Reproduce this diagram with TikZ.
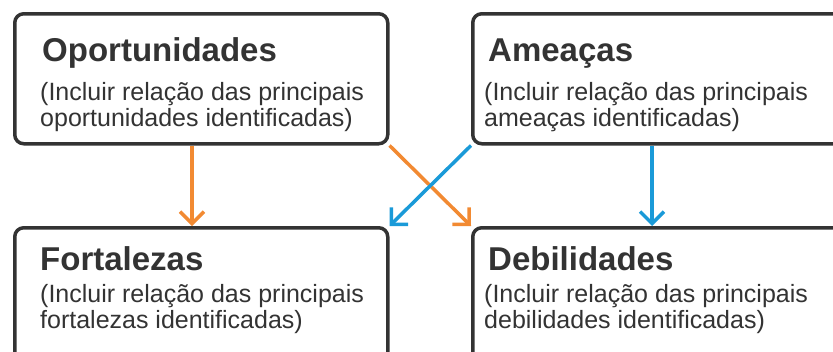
\documentclass[tikz,border=0pt]{standalone}
\usepackage{fontspec}
\setmainfont{Liberation Sans}
\usetikzlibrary{arrows.meta}
\definecolor{boxline}{HTML}{333333}
\definecolor{txt}{HTML}{333333}
\definecolor{orng}{HTML}{F28A32}
\definecolor{blu}{HTML}{1A9AD8}
\tikzset{
  card/.style={draw=boxline, line width=3.5pt, rounded corners=9pt, fill=white,
    rectangle, anchor=north west, inner sep=0pt, minimum width=#1, minimum height=130pt},
  ttl/.style={anchor=base west, inner sep=0pt, text=txt, font=\fontsize{33}{36}\selectfont\bfseries},
  sub/.style={anchor=base west, inner sep=0pt, text=txt, align=left, font=\fontsize{25}{26}\selectfont},
  conn/.style={line width=3.5pt, -{Straight Barb[length=12pt,width=24pt,line width=3.5pt]}},
}
\begin{document}
\begin{tikzpicture}[x=1pt,y=-1pt]
\useasboundingbox (0,0) rectangle (833,351);
\clip (0,0) rectangle (833,351);
\node[card=373pt] (op) at (13,12) {};
\node[card=400pt] (am) at (471,12) {};
\node[card=373pt, minimum height=150pt] (fo) at (13,226) {};
\node[card=400pt, minimum height=150pt] (de) at (471,226) {};
\node[ttl] (opt) at (42,61) {Oportunidades};
\node[sub] (ops) at (40,126) {(Incluir relação das principais\\oportunidades identificadas)};
\node[ttl] (amt) at (488,61) {Ameaças};
\node[sub] (ams) at (484,126) {(Incluir relação das principais\\ameaças identificadas)};
\node[ttl] (fot) at (40,270) {Fortalezas};
\node[sub] (fos) at (40,328) {(Incluir relação das principais\\fortalezas identificadas)};
\node[ttl] (det) at (488,270) {Debilidades};
\node[sub] (des) at (484,328) {(Incluir relação das principais\\debilidades identificadas)};
\draw[conn, orng] (op.south -| 192,0) -- (fo.north -| 192,0);
\draw[conn, orng] (op.south east) -- (de.north west);
\draw[conn, blu] (am.south west) -- (fo.north east);
\draw[conn, blu] (am.south -| 652,0) -- (de.north -| 652,0);
\end{tikzpicture}
\end{document}
